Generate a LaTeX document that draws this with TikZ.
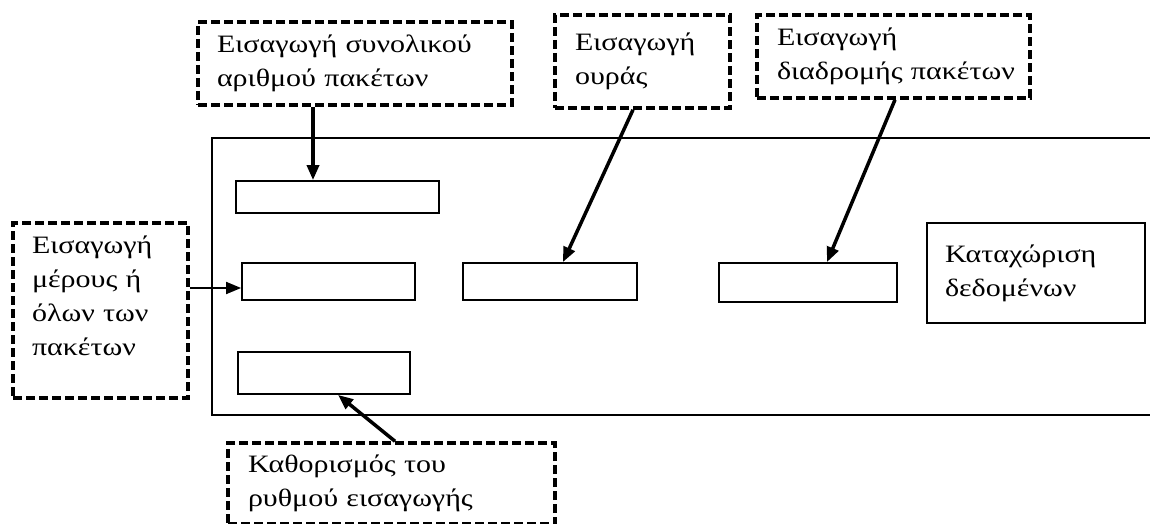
\documentclass[tikz,border=0pt]{standalone}
\usepackage{fontspec}
\setmainfont[FakeStretch=1.2]{Liberation Serif}
\usetikzlibrary{arrows.meta}

\begin{document}
\begin{tikzpicture}[x=1pt,y=-1pt,
	note/.style={draw,line width=3.5pt,dash pattern=on 9pt off 4pt,align=left,inner sep=0pt,font=\fontsize{25}{34}\selectfont},
	slot/.style={draw,line width=1.8pt,inner sep=0pt},
	arr/.style={line width=3.5pt,-{Triangle[length=15pt,width=12pt]}}]
	\useasboundingbox (0,0) rectangle (1150,524);
	%	outer frame, its right side lies off the page
	\node (frame) at(706,276.5)[slot,minimum width=988pt,minimum height=277pt]{};
	\foreach \n/\x/\y/\w/\h in {total/337.5/197/203/32, part/328.5/281.5/173/37, queue/550/281.5/174/37,
		route/808/282.5/178/39, rate/324/373/172/42} {
		\node (\n) at(\x,\y)[slot,minimum width=\w pt,minimum height=\h pt]{};
	}
	\node (store) at(1036,273)[slot,align=left,text width=182pt,minimum width=218pt,minimum height=100pt,font=\fontsize{25}{34}\selectfont]{Καταχώριση\\δεδομένων};
	% dashed notes
	\node (intotal) at(355,63.5)[note,text width=276pt,minimum width=314pt,minimum height=83pt]{Εισαγωγή συνολικού\\αριθμού πακέτων};
	\node (inqueue) at(642.5,61.5)[note,text width=135pt,minimum width=175pt,minimum height=93pt]{Εισαγωγή\\ουράς};
	\node (inroute) at(893.5,56.5)[note,text width=233pt,minimum width=273pt,minimum height=83pt]{Εισαγωγή\\\mbox{διαδρομής πακέτων}};
	\node (inpart) at(100.5,310.5)[note,text width=137pt,text depth=132pt,minimum width=175pt,minimum height=175pt]{Εισαγωγή\\μέρους ή\\όλων των\\πακέτων};
	\node (inrate) at(391.5,483.5)[note,text width=287pt,minimum width=327pt,minimum height=81pt]{Καθορισμός του\\ρυθμού εισαγωγής};
	% arrows
	\draw[arr] ([xshift=-42pt]intotal.south) -- ([xshift=-24.5pt]total.north);
	\draw[arr] ([xshift=-9.5pt]inqueue.south) -- ([xshift=13pt]queue.north);
	\draw[arr] ([xshift=1.5pt]inroute.south) -- ([xshift=19pt]route.north);
	\draw[arr,line width=1.8pt] ([yshift=22.5pt]inpart.east) -- ([yshift=-6.5pt]part.west);
	\draw[arr] ([xshift=3.5pt]inrate.north) -- ([xshift=14pt]rate.south);
\end{tikzpicture}
\end{document}
